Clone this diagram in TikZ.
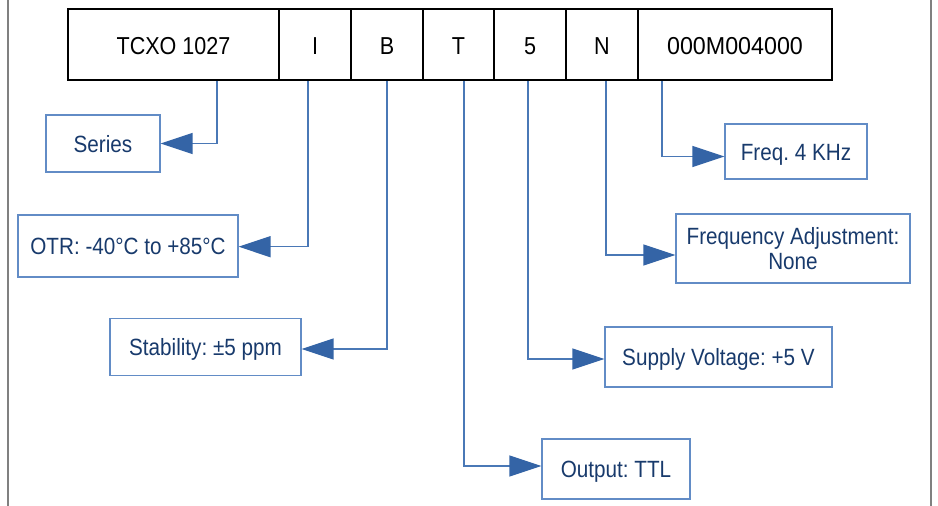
\documentclass[tikz,border=0pt]{standalone}
\usepackage{fontspec}
\setmainfont{Liberation Sans}[FakeStretch=0.88]
\newfontfamily\widefont{Liberation Sans}[FakeStretch=0.95]
\usetikzlibrary{arrows.meta}
\definecolor{boxblue}{RGB}{98,140,198}
\definecolor{lineblue}{RGB}{74,120,182}
\definecolor{headblue}{RGB}{52,100,166}
\definecolor{textblue}{RGB}{24,58,108}
\definecolor{pagegray}{RGB}{128,128,128}
\frenchspacing
\begin{document}
\frenchspacing
\begin{tikzpicture}[x=1pt,y=-1pt,
  topbox/.style={draw=black, line width=2pt, minimum height=71pt, inner sep=0pt,
    font=\fontsize{24.5}{28}\selectfont, text=black, text height=21pt, text depth=1.4pt},
  lbl/.style={draw=boxblue, line width=1.2pt, inner sep=0pt,
    font=\fontsize{23.5}{24.5}\selectfont, text=textblue, align=center},
  one/.style={text height=19pt, text depth=2pt},
  conn/.style={draw=lineblue, line width=1.3pt,
    -{Triangle[length=32pt,width=21pt,fill=headblue,color=headblue]}}]
\useasboundingbox (0,0) rectangle (938,506);
\fill[white] (0,0) rectangle (938,506);
% page edges
\draw[pagegray, line width=2pt] (8,0) -- (8,506);
\draw[pagegray, line width=2pt] (931,0) -- (931,506);
% top code boxes
\node[topbox, minimum width=211pt] (tcxo) at (173.5,44.5) {TCXO 1027};
\node[topbox, minimum width=72pt] (ci) at (315,44.5) {I};
\node[topbox, minimum width=72pt] (cb) at (387,44.5) {B};
\node[topbox, minimum width=71pt] (ct) at (458.5,44.5) {T};
\node[topbox, minimum width=72pt] (c5) at (530,44.5) {5};
\node[topbox, minimum width=72pt] (cn) at (602,44.5) {N};
\node[topbox, minimum width=194pt] (cf) at (735,44.5) {\widefont 000M004000};
% label boxes
\node[lbl, one, minimum width=114pt, minimum height=57pt] (series) at (103,143.5) {Series};
\node[lbl, one, minimum width=220pt, minimum height=62pt] (otr) at (128,246) {OTR: -40°C to +85°C};
\node[lbl, one, minimum width=191pt, minimum height=57pt] (stab) at (205.5,347) {Stability: ±5 ppm};
\node[lbl, one, minimum width=148pt, minimum height=60pt] (outp) at (616,469) {Output: TTL};
\node[lbl, one, minimum width=227pt, minimum height=60pt] (supply) at (718.5,357) {Supply Voltage: +5 V};
\node[lbl, minimum width=234pt, minimum height=69pt] (fadj) at (793,248.5) {Frequency Adjustment:\\None};
\node[lbl, one, minimum width=142pt, minimum height=55pt] (freq) at (796,151.5) {Freq. 4 KHz};
% connectors
\draw[conn] ([xshift=43.5pt]tcxo.south) |- (series.east);
\draw[conn] ([xshift=-7pt]ci.south) |- ([yshift=-0.7pt]otr.east);
\draw[conn] (cb.south) |- ([yshift=-2pt]stab.east);
\draw[conn] ([xshift=5.5pt]ct.south) |- ([yshift=3pt]outp.west);
\draw[conn] ([xshift=-2pt]c5.south) |- ([yshift=-2pt]supply.west);
\draw[conn] ([xshift=4pt]cn.south) |- ([yshift=-6.5pt]fadj.west);
\draw[conn] ([xshift=-73pt]cf.south) |- ([yshift=-5pt]freq.west);
\end{tikzpicture}
\end{document}
